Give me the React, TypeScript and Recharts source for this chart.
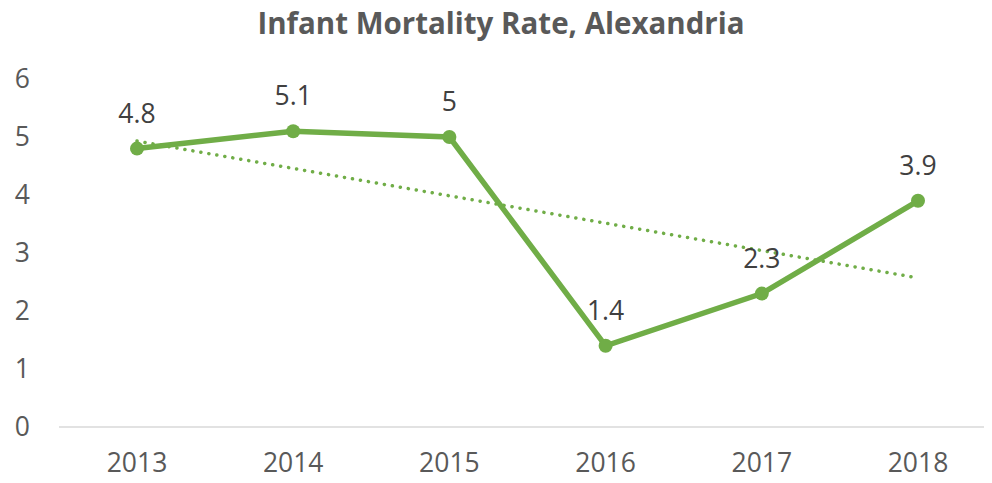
import React from 'react';
import { LineChart, Line, XAxis, YAxis, LabelList } from 'recharts';

const years = ['2013', '2014', '2015', '2016', '2017', '2018'];
const rates = [4.8, 5.1, 5, 1.4, 2.3, 3.9];
// dotted linear trendline, end points
const trend = [4.93, null, null, null, null, 2.57];
const yTicks = [0, 1, 2, 3, 4, 5, 6];

const GREEN = '#70AD47';
const FONT = '"Open Sans", "Noto Sans", sans-serif';

const data = years.map((year, i) => ({ year, rate: rates[i], trend: trend[i] }));

const App: React.FC = () => {
  return (
    <div style={{ position: 'relative', width: 992, height: 483, margin: -8, background: '#fff' }}>
      <div
        style={{
          position: 'absolute',
          top: 0,
          left: 0,
          width: 1002,
          textAlign: 'center',
          fontFamily: FONT,
          fontWeight: 700,
          fontSize: 29.5,
          lineHeight: '46px',
          color: '#595959',
        }}
      >
        Infant Mortality Rate, Alexandria
      </div>
      <LineChart
        width={992}
        height={483}
        data={data}
        margin={{ top: 79, right: 0, left: 0, bottom: 0 }}
      >
        <XAxis
          dataKey="year"
          padding={{ left: 78, right: 74 }}
          axisLine={{ stroke: '#D9D9D9', strokeWidth: 1.5 }}
          tickLine={false}
          tickSize={0}
          tickMargin={26}
          height={56}
          tick={{ fill: '#595959', fontSize: 26.5, fontFamily: FONT }}
        />
        <YAxis
          domain={[0, 6]}
          ticks={yTicks}
          width={59}
          axisLine={false}
          tickLine={false}
          tickSize={0}
          tickMargin={29}
          tick={{ fill: '#595959', fontSize: 26.5, fontFamily: FONT }}
        />
        <Line
          dataKey="trend"
          connectNulls
          stroke={GREEN}
          strokeWidth={3.5}
          strokeDasharray="0.1 8"
          strokeLinecap="round"
          dot={false}
          activeDot={false}
          isAnimationActive={false}
        />
        <Line
          dataKey="rate"
          stroke={GREEN}
          strokeWidth={5.5}
          dot={{ r: 7, fill: GREEN, stroke: 'none' }}
          isAnimationActive={false}
        >
          <LabelList
            dataKey="rate"
            position="top"
            offset={26}
            fill="#404040"
            fontSize={26.5}
            fontFamily={FONT}
          />
        </Line>
      </LineChart>
    </div>
  );
};

export default App;
